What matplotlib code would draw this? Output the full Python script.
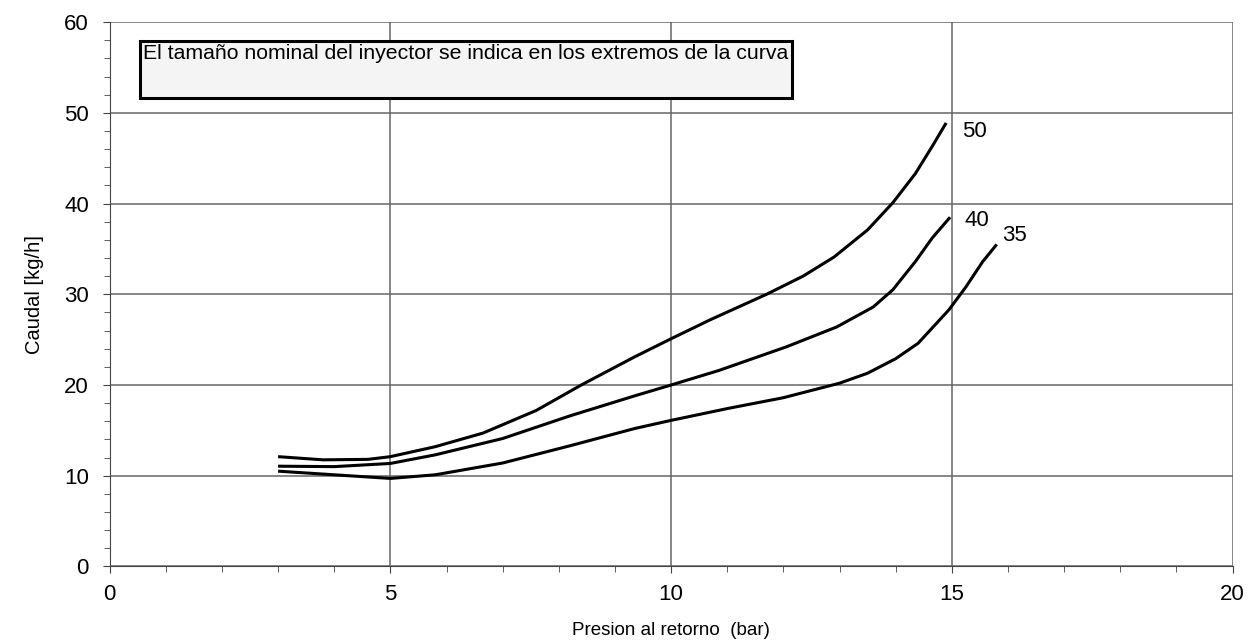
import matplotlib.pyplot as plt
from matplotlib.patches import Rectangle
from matplotlib.ticker import MultipleLocator

plt.rcParams['font.family'] = ['Liberation Sans', 'DejaVu Sans']

# curves: presion al retorno (bar) -> caudal (kg/h)
x_50 = [3.0, 3.8, 4.6, 5.0, 5.8, 6.65, 7.6, 8.4, 9.35, 10.0, 10.7, 11.7, 12.35,
        12.9, 13.5, 13.95, 14.35, 14.65, 14.9]
y_50 = [12.1, 11.75, 11.8, 12.1, 13.2, 14.7, 17.2, 20.0, 23.1, 25.1, 27.2, 30.0, 32.0,
        34.1, 37.1, 40.1, 43.3, 46.3, 48.9]
x_40 = [3.0, 4.0, 5.0, 5.8, 7.0, 8.2, 9.35, 10.0, 10.85, 12.05, 12.95, 13.6,
        13.95, 14.35, 14.65, 14.97]
y_40 = [11.05, 11.0, 11.35, 12.3, 14.1, 16.6, 18.8, 20.0, 21.6, 24.2, 26.4, 28.6,
        30.5, 33.6, 36.2, 38.5]
x_35 = [3.0, 4.0, 5.0, 5.8, 7.0, 8.2, 9.35, 10.0, 11.0, 12.0, 13.0, 13.5, 14.0, 14.4,
        14.95, 15.25, 15.55, 15.8]
y_35 = [10.5, 10.1, 9.7, 10.1, 11.4, 13.3, 15.2, 16.1, 17.4, 18.6, 20.2, 21.3, 22.9, 24.6,
        28.3, 30.8, 33.6, 35.5]
curve_labels = ['50', '40', '35']

fig = plt.figure(figsize=(12.56, 6.44), dpi=100)
ax = fig.add_axes([0.0873, 0.1205, 0.894, 0.845])

for xs, ys in [(x_50, y_50), (x_40, y_40), (x_35, y_35)]:
    ax.plot(xs, ys, color='black', linewidth=2.2, solid_joinstyle='round',
            solid_capstyle='butt', zorder=3)

ax.text(15.18, 48.0, curve_labels[0], fontsize=16, va='center', ha='left')
ax.text(15.22, 38.1, curve_labels[1], fontsize=16, va='center', ha='left')
ax.text(15.9, 36.5, curve_labels[2], fontsize=16, va='center', ha='left')

ax.set_xlim(0, 20)
ax.set_ylim(0, 60)
ax.xaxis.set_major_locator(MultipleLocator(5))
ax.xaxis.set_minor_locator(MultipleLocator(1))
ax.yaxis.set_major_locator(MultipleLocator(10))
ax.yaxis.set_minor_locator(MultipleLocator(2))
ax.grid(which='major', color='#666666', linewidth=1.1)
ax.set_axisbelow(True)
ax.spines['top'].set_visible(False)
ax.spines['right'].set_visible(False)
ax.spines['left'].set_color('#444444')
ax.spines['bottom'].set_color('#444444')
ax.tick_params(which='both', direction='out', color='#444444')
ax.tick_params(axis='x', which='major', length=5, labelsize=16, pad=8)
ax.tick_params(axis='y', which='major', length=5, labelsize=16, pad=10)
ax.tick_params(which='minor', length=4)

ax.set_xlabel('Presion al retorno  (bar)', fontsize=13.5, labelpad=12)
ax.set_ylabel('Caudal [kg/h]', fontsize=14.5, labelpad=14)

box = Rectangle((0.54, 51.65), 11.62, 6.28, facecolor='#f4f4f4',
                edgecolor='black', linewidth=2.2, zorder=4)
ax.add_patch(box)
ax.text(0.6, 57.65, 'El tamaño nominal del inyector se indica en los extremos de la curva',
        fontsize=15.3, va='top', ha='left', zorder=5)

fig.savefig('out.png', dpi=100, facecolor='white')
